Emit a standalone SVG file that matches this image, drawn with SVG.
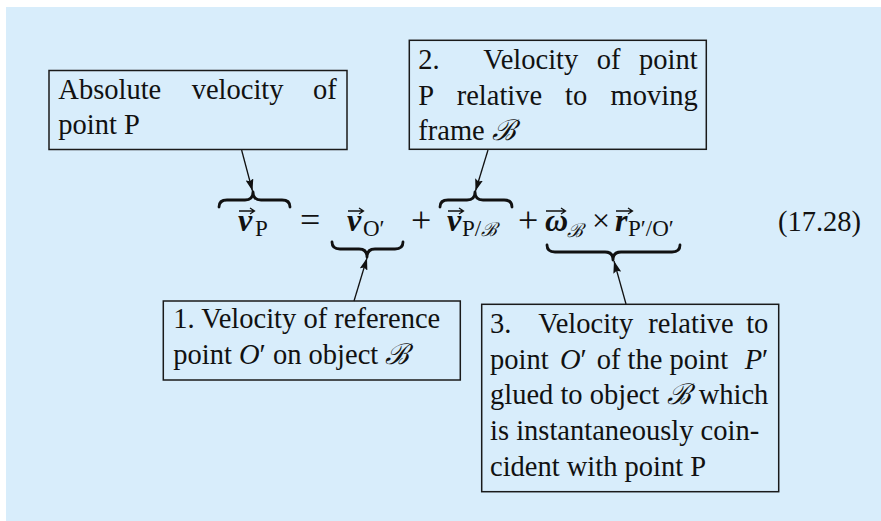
<svg xmlns="http://www.w3.org/2000/svg" width="881" height="521" viewBox="0 0 881 521">
<defs>
<style>
.t{font-family:"Liberation Serif","DejaVu Serif",serif;font-size:28.5px;fill:#111}
.i{font-style:italic}
.eq{font-family:"Liberation Serif","DejaVu Serif",serif;font-size:32px;fill:#111}
.op{font-size:36px}
.bv{font-weight:bold;font-style:italic}
.sub{font-size:23px}
.cal{font-family:"Liberation Serif",serif;font-style:italic;font-weight:normal}
.cs{font-size:19px}
.box{fill:none;stroke:#1a1a1a;stroke-width:1.5}
.brace{fill:none;stroke:#111;stroke-width:2.8;stroke-linejoin:round;stroke-linecap:round}
.vec{fill:none;stroke:#111;stroke-width:1.3}
.conn{fill:none;stroke:#111;stroke-width:1.3}
</style>
<marker id="ah" markerUnits="userSpaceOnUse" markerWidth="12" markerHeight="8" viewBox="0 0 12 8" refX="12" refY="4" orient="auto">
<path d="M0,0 L12,4 L0,8 L2,4 z" fill="#111"/>
</marker>
</defs>
<rect x="6" y="7" width="875" height="514" fill="#d8edfb"/>

<g id="box-absolute">
<rect class="box" x="49" y="70.5" width="298" height="79"/>
<text class="t" y="98.5"><tspan x="58.3">Absolute</tspan><tspan x="191.7">velocity</tspan><tspan x="336.7" text-anchor="end">of</tspan></text>
<text class="t" x="58.3" y="134">point P</text>
</g>

<g id="box-2">
<rect class="box" x="409.3" y="40.3" width="297" height="109"/>
<text class="t" y="69"><tspan x="418.3">2.</tspan><tspan x="483.3">Velocity</tspan><tspan x="596.7">of</tspan></text>
<text class="t" x="697.7" y="69" text-anchor="end">point</text>
<text class="t" y="104.5"><tspan x="418.3">P</tspan><tspan x="456.7">relative</tspan><tspan x="565">to</tspan></text>
<text class="t" x="697.7" y="104.5" text-anchor="end">moving</text>
<text class="t" y="140"><tspan x="418.3">frame </tspan><tspan class="cal">ℬ</tspan></text>
</g>

<g id="box-1">
<rect class="box" x="163.3" y="301" width="297" height="79"/>
<text class="t" x="173.3" y="328.3">1.  Velocity of reference</text>
<text class="t" y="363.5"><tspan x="173.3">point </tspan><tspan class="i">O</tspan><tspan>′ on object </tspan><tspan class="cal">ℬ</tspan></text>
</g>

<g id="box-3">
<rect class="box" x="481.7" y="304.3" width="297" height="187.4"/>
<text class="t" y="333.3"><tspan x="490">3.</tspan><tspan x="538.3">Velocity</tspan><tspan x="648.3">relative</tspan></text>
<text class="t" x="768.3" y="333.3" text-anchor="end">to</text>
<text class="t" y="369"><tspan x="490">point </tspan><tspan class="i" x="560">O</tspan><tspan>′</tspan><tspan x="596.7">of the point</tspan></text>
<text class="t" x="768.3" y="369" text-anchor="end"><tspan class="i">P</tspan>′</text>
<text class="t" y="404"><tspan x="490">glued to object </tspan><tspan class="cal">ℬ</tspan></text>
<text class="t" x="768.3" y="404" text-anchor="end">which</text>
<text class="t" x="490" y="440">is instantaneously coin-</text>
<text class="t" x="490" y="475.5">cident with point P</text>
</g>

<g id="equation">
<text class="eq bv" x="238" y="231">v</text>
<path class="vec" d="M239,211 H254 M250,208 L254.5,211 L250,214"/>
<text class="eq sub" x="255" y="236">P</text>
<text class="eq op" x="300" y="232">=</text>
<text class="eq bv" x="347" y="231">v</text>
<path class="vec" d="M348,211 H363 M359,208 L363.5,211 L359,214"/>
<text class="eq sub" x="363" y="236">O′</text>
<text class="eq op" x="411" y="232">+</text>
<text class="eq bv" x="447" y="231">v</text>
<path class="vec" d="M448,211 H463 M459,208 L463.5,211 L459,214"/>
<text class="eq sub" x="462" y="236">P/<tspan class="cal cs">ℬ</tspan></text>
<text class="eq op" x="518" y="232">+</text>
<text class="eq bv" x="545" y="231">ω</text>
<path class="vec" d="M546,211 H565 M561,208 L565.5,211 L561,214"/>
<text class="eq cal cs" x="567" y="237">ℬ</text>
<text class="eq" x="592" y="231">×</text>
<text class="eq bv" x="615" y="231">r</text>
<path class="vec" d="M616,211 H632 M628,208 L632.5,211 L628,214"/>
<text class="eq sub" x="628" y="236">P′/O′</text>
<text class="t" x="778" y="231">(17.28)</text>
</g>

<g id="braces">
<path class="brace" d="M219,207 Q219,200 227,200 L245,200 Q253,200 253,192 Q253,200 261,200 L282,200 Q290,200 290,207"/>
<path class="brace" d="M440,207 Q440,200 448,200 L467,200 Q475,200 475,192 Q475,200 483,200 L504,200 Q512,200 512,207"/>
<path class="brace" d="M332,242 Q332,249 340,249 L359,249 Q367,249 367,257 Q367,249 375,249 L395,249 Q403,249 403,242"/>
<path class="brace" d="M547,245 Q547,252 555,252 L605,252 Q613,252 613,260 Q613,252 621,252 L672,252 Q680,252 680,245"/>
</g>

<g id="connectors">
<line class="conn" x1="241.6" y1="150" x2="252.5" y2="191" marker-end="url(#ah)"/>
<line class="conn" x1="488" y1="150" x2="475.5" y2="191" marker-end="url(#ah)"/>
<line class="conn" x1="354" y1="301" x2="367" y2="258" marker-end="url(#ah)"/>
<line class="conn" x1="626" y1="304" x2="614" y2="261" marker-end="url(#ah)"/>
</g>
</svg>
